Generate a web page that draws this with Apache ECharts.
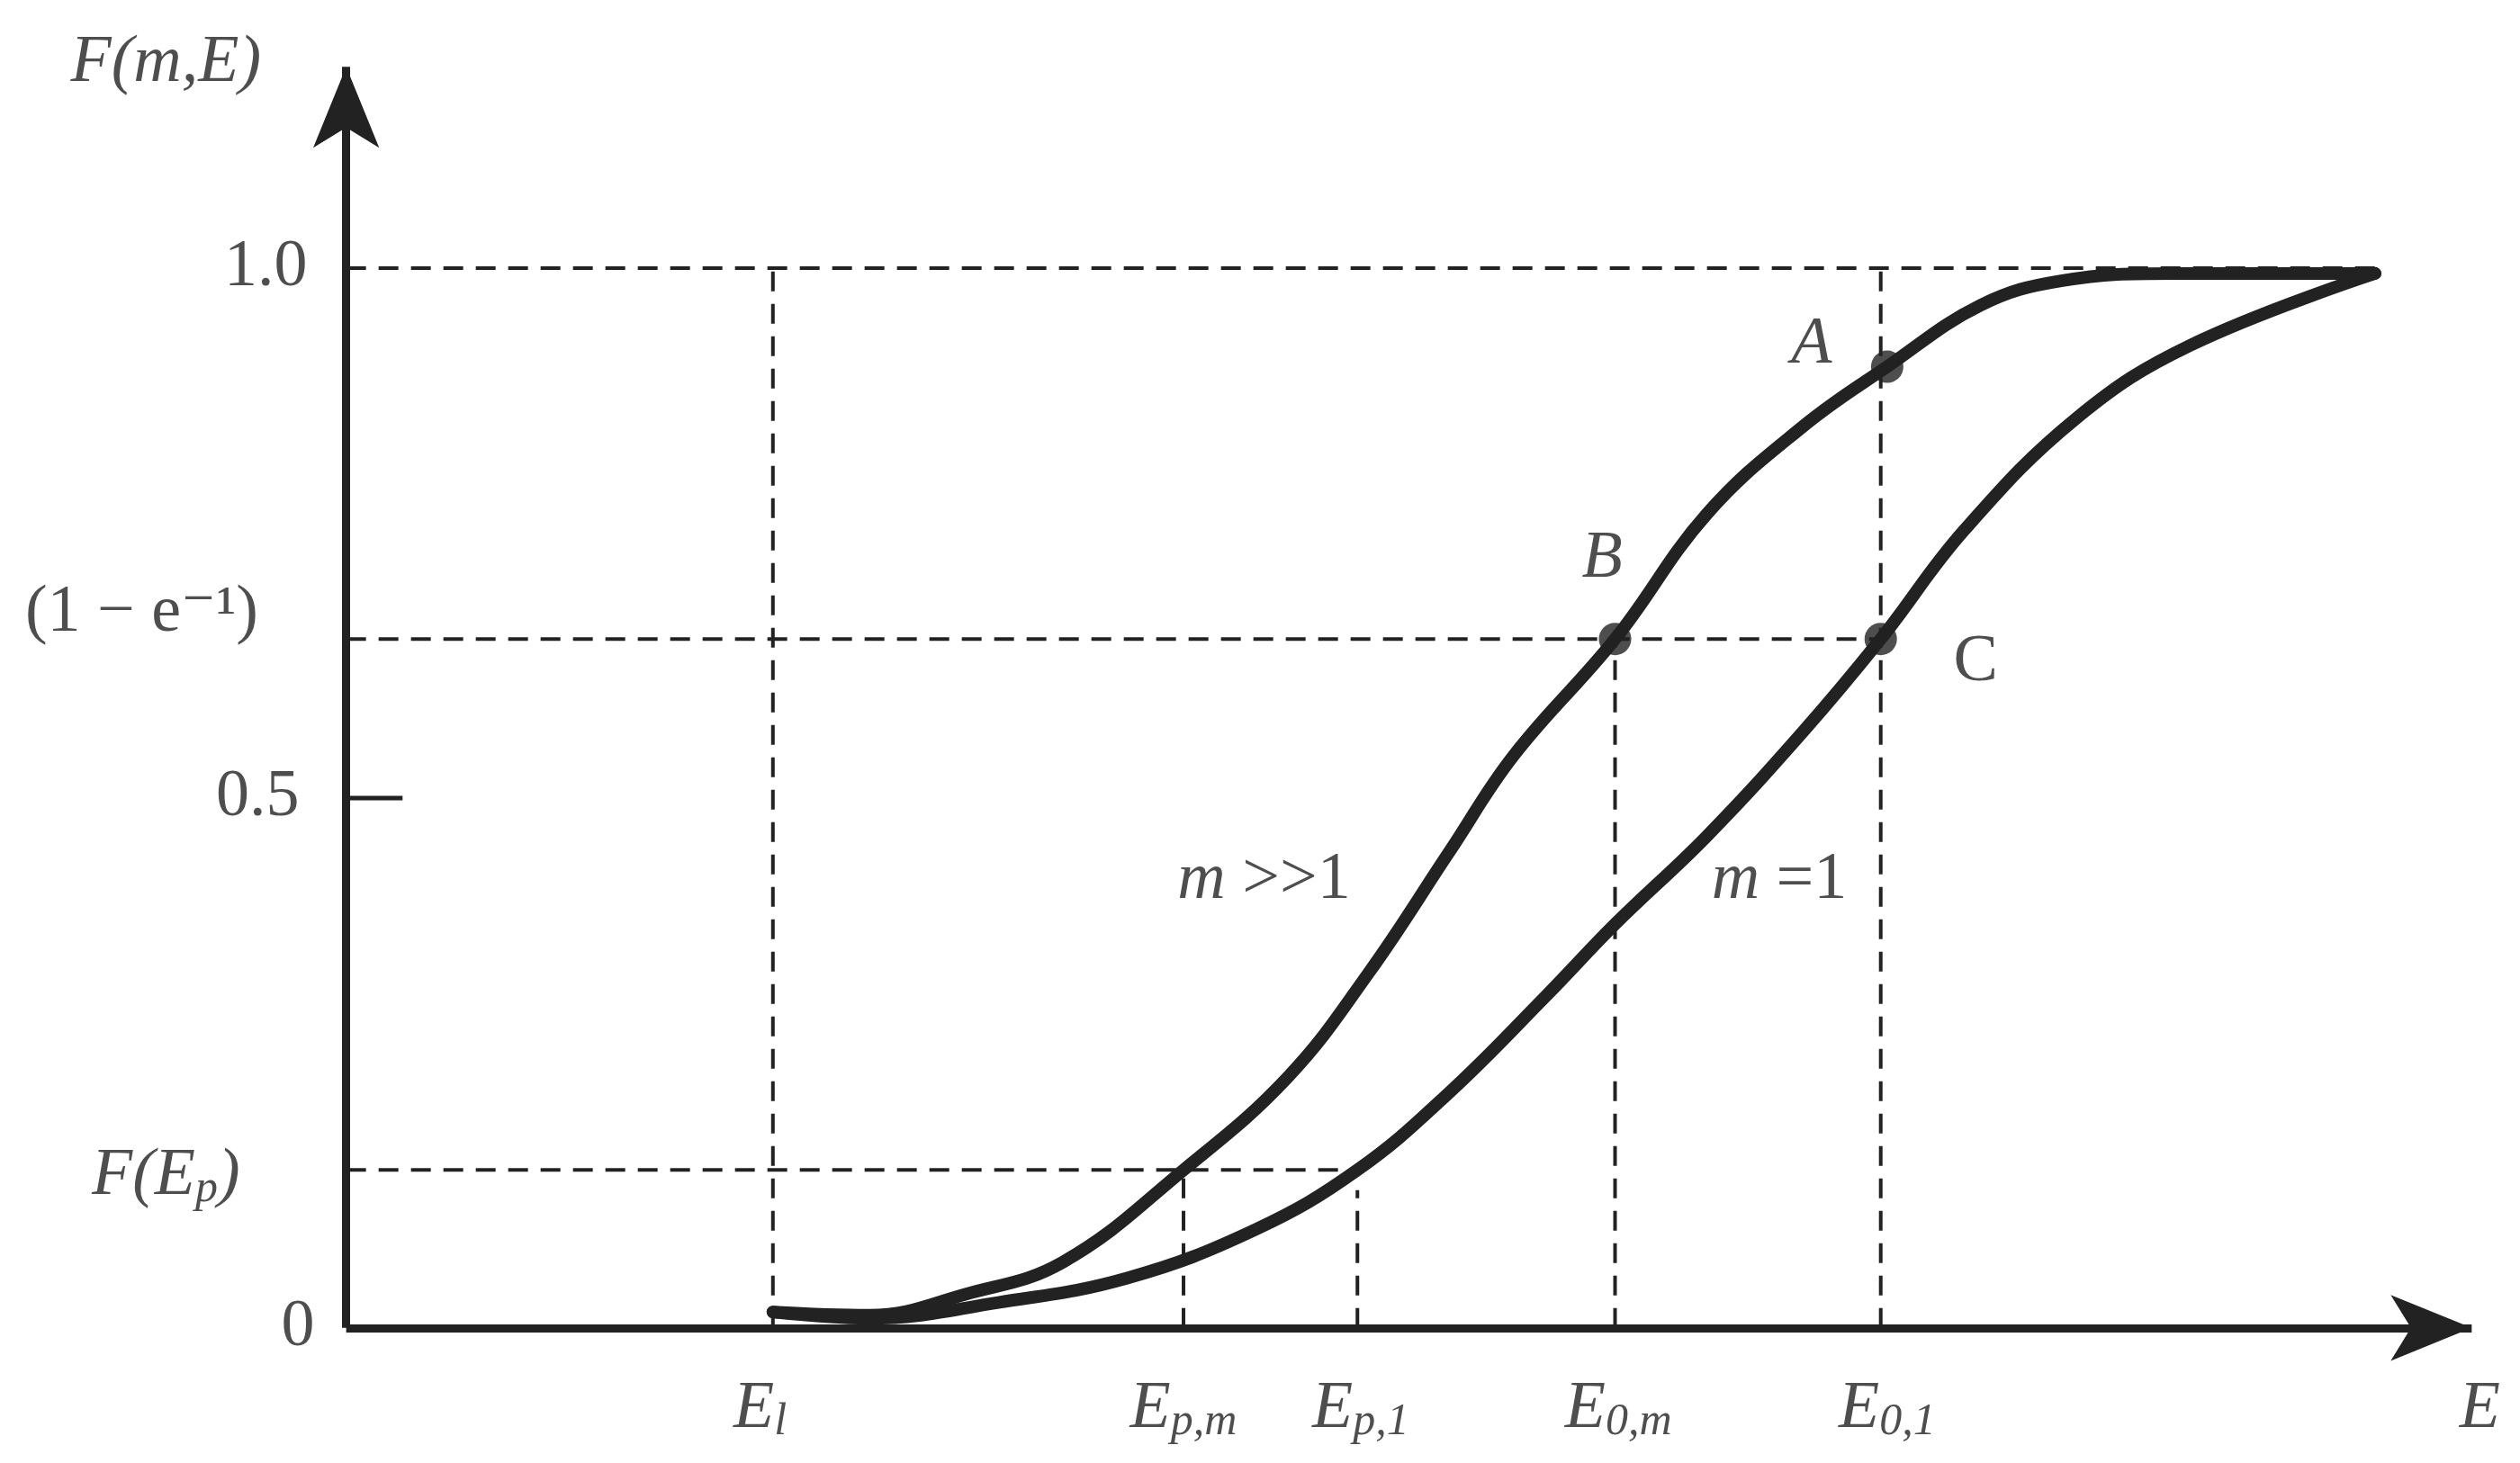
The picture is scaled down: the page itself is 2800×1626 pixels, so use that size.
<!DOCTYPE html>
<html><head><meta charset="utf-8">
<script src="https://cdn.jsdelivr.net/npm/echarts@6/dist/echarts.min.js"></script>
<style>html,body{margin:0;padding:0;background:#fff}#c{width:2800px;height:1626px}</style>
</head><body><div id="c"></div>
<script>
// x in abstract energy units, y = F(m,E)
const curveMx = [265,325,385,445,520,585,635,685,725,788,845,905,957,1015,1065,1135,1260];
const curveMy = [0.015,0.012,0.032,0.062,0.149,0.237,0.335,0.449,0.540,0.65,0.768,0.851,0.907,0.965,0.988,0.995,0.995];
const curve1x = [265,325,405,485,565,628,685,745,788,845,905,953,1005,1075,1145,1260];
const curve1y = [0.015,0.009,0.024,0.047,0.093,0.149,0.222,0.313,0.381,0.464,0.563,0.65,0.753,0.859,0.927,0.995];
const xMarks = {El:265, Epm:520, Ep1:628, E0m:788, E01:953, end:1260};
const yMarks = {one:1.0, oneMinusInvE:0.65, FEp:0.149, half:0.5};
const points = [[957,0.907],[788,0.65],[953,0.65]];

const serif = '"Liberation Serif","DejaVu Serif",serif';
const FS = 74;
const dash = {type:[22,14], width:4, color:'#222'};
function seg(a,b){return {type:'line',data:[a,b],symbol:'none',lineStyle:dash,silent:true,z:1};}
function txt(x,y,text,italic,rich){
  return {type:'scatter',data:[[x,y]],symbolSize:0,silent:true,z:10,
    label:{show:true,position:'inside',formatter:text,fontFamily:serif,fontSize:FS,
      fontStyle:italic?'italic':'normal',color:'#222',rich:rich||{}}};
}
const sub = {i:{fontFamily:serif,fontSize:FS,fontStyle:'italic',color:'#222'},
  s:{fontFamily:serif,fontSize:50,fontStyle:'italic',color:'#222',padding:[28,0,0,0]}};

const series = [
  seg([0,yMarks.one],[xMarks.end,yMarks.one]),
  seg([0,yMarks.oneMinusInvE],[xMarks.E01,yMarks.oneMinusInvE]),
  seg([0,yMarks.FEp],[xMarks.Ep1,yMarks.FEp]),
  seg([xMarks.El,0],[xMarks.El,yMarks.one]),
  seg([xMarks.Epm,0],[xMarks.Epm,yMarks.FEp]),
  seg([xMarks.Ep1,0],[xMarks.Ep1,0.13]),
  seg([xMarks.E0m,0],[xMarks.E0m,yMarks.oneMinusInvE]),
  seg([xMarks.E01,0],[xMarks.E01,yMarks.one]),
  {type:'line',data:[[0,yMarks.half],[35,yMarks.half]],symbol:'none',lineStyle:{width:5,color:'#222'}},
  {type:'line',data:curveMx.map((x,i)=>[x,curveMy[i]]),smooth:0.4,symbol:'none',lineStyle:{width:14,color:'#222',cap:'round'},z:5},
  {type:'line',data:curve1x.map((x,i)=>[x,curve1y[i]]),smooth:0.4,symbol:'none',lineStyle:{width:14,color:'#222',cap:'round'},z:5},
  {type:'scatter',data:points,symbolSize:36,itemStyle:{color:'#222'},z:6},
  {type:'line',data:[],markLine:{silent:true,symbol:['none','arrow'],symbolSize:[55,90],label:{show:false},
    lineStyle:{type:'solid',width:9,color:'#222'},
    data:[[{coord:[0,0]},{coord:[1320,0]}],[{coord:[0,0]},{coord:[0,1.19]}]]}},
  txt(-112,1.193,'F(m,E)',true),
  txt(-50,1.0,'1.0',false),
  txt(-127,0.674,'(1 − e⁻¹)',false),
  txt(-55,0.5,'0.5',false),
  txt(-112,0.143,'{i|F(E}{s|p}{i|)}',true,sub),
  txt(-30,0,'0',false),
  txt(257,-0.077,'{i|E}{s|l}',true,sub),
  txt(520,-0.077,'{i|E}{s|p,m}',true,sub),
  txt(630,-0.077,'{i|E}{s|p,1}',true,sub),
  txt(790,-0.077,'{i|E}{s|0,m}',true,sub),
  txt(957,-0.077,'{i|E}{s|0,1}',true,sub),
  txt(1325,-0.077,'E',true),
  txt(910,0.927,'A',true),
  txt(780,0.725,'B',true),
  txt(1012,0.628,'C',false),
  txt(570,0.422,'{i|m} >>1',false,sub),
  txt(890,0.422,'{i|m} =1',false,sub)
];

const chart = echarts.init(document.getElementById('c'));
chart.setOption({
  animation:false,
  grid:{left:0,right:0,top:0,bottom:0},
  xAxis:{type:'value',min:-215,max:1350,show:false},
  yAxis:{type:'value',min:-0.1275,max:1.253,show:false},
  series
});
</script></body></html>
